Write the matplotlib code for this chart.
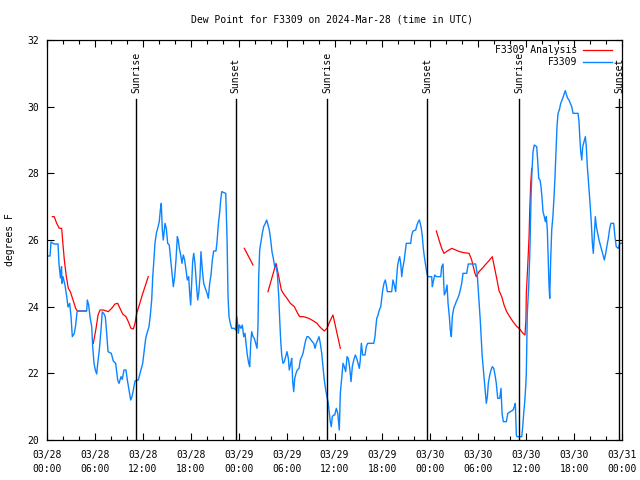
import numpy as np
import matplotlib
matplotlib.use('Agg')
import matplotlib.pyplot as plt
from matplotlib.ticker import MultipleLocator

nan = np.nan

# Hours since 2024-03-28 00:00 UTC
obs_hours = [0.00, 0.38, 0.50, 0.88, 1.38, 1.50, 1.69, 1.82, 1.88, 2.00, 2.25, 2.47, 2.63, 2.84, 3.01,
             3.17, 3.42, 3.59, 3.76, 3.88, 4.97, 5.05, 5.22, 5.38, 5.60, 5.72, 5.89, 6.05, 6.22, 6.35,
             6.55, 6.76, 6.92, 7.10, 7.30, 7.48, 7.64, 8.05, 8.30, 8.60, 8.85, 9.02, 9.27, 9.43, 9.64,
             9.89, 10.06, 10.27, 10.48, 10.64, 10.81, 11.02, 11.43, 11.65, 11.98, 12.18, 12.36, 12.52,
             12.77, 12.94, 13.11, 13.24, 13.36, 13.52, 13.69, 13.86, 14.06, 14.19, 14.31, 14.44, 14.56,
             14.78, 14.94, 15.11, 15.31, 15.49, 15.65, 15.82, 15.99, 16.15, 16.32, 16.44, 16.57, 16.74,
             16.90, 17.07, 17.24, 17.41, 17.57, 17.74, 17.87, 17.99, 18.12, 18.24, 18.37, 18.53, 18.70,
             18.87, 19.00, 19.16, 19.28, 19.45, 19.62, 19.82, 20.04, 20.20, 20.37, 20.54, 20.70, 20.87,
             21.16, 21.29, 21.45, 21.63, 21.75, 21.88, 22.38, 22.54, 22.67, 22.79, 22.95, 23.13, 23.45,
             23.63, 23.76, 23.88, 23.96, 24.08, 24.29, 24.46, 24.63, 24.79, 24.92, 25.08, 25.26, 25.38,
             25.51, 25.63, 25.80, 25.96, 26.13, 26.30, 26.42, 26.51, 26.63, 26.80, 26.96, 27.13, 27.34,
             27.51, 27.67, 27.84, 28.01, 28.17, 28.34, 28.51, 28.68, 28.84, 29.02, 29.14, 29.26, 29.39,
             29.55, 29.72, 29.89, 30.05, 30.22, 30.34, 30.52, 30.64, 30.77, 30.89, 31.02, 31.18, 31.34,
             31.56, 31.72, 31.90, 32.06, 32.22, 32.40, 32.56, 32.72, 32.90, 33.06, 33.22, 33.40, 33.56,
             33.72, 33.90, 34.06, 34.22, 34.40, 34.56, 34.72, 34.90, 35.06, 35.22, 35.35, 35.47, 35.60,
             35.72, 35.90, 36.03, 36.23, 36.41, 36.53, 36.60, 36.73, 36.90, 37.07, 37.23, 37.40, 37.57,
             37.73, 37.91, 38.07, 38.23, 38.41, 38.61, 38.78, 38.94, 39.11, 39.23, 39.36, 39.53, 39.82,
             39.98, 40.16, 40.91, 41.07, 41.16, 41.29, 41.45, 41.61, 41.79, 41.91, 42.04, 42.20, 42.36,
             42.49, 42.61, 43.16, 43.32, 43.49, 43.66, 43.79, 43.91, 44.04, 44.16, 44.29, 44.42, 44.54,
             44.70, 44.83, 44.99, 45.54, 45.67, 45.83, 46.17, 46.33, 46.49, 46.62, 46.74, 46.87, 47.00,
             47.12, 47.25, 47.37, 47.50, 47.67, 48.17, 48.25, 48.37, 48.55, 48.75, 49.30, 49.42, 49.59,
             49.68, 49.75, 49.93, 50.09, 50.22, 50.38, 50.50, 50.63, 50.75, 50.93, 51.09, 51.25, 51.43,
             51.59, 51.75, 51.93, 52.09, 52.55, 52.75, 53.68, 53.88, 54.09, 54.25, 54.38, 54.50, 54.68,
             54.85, 55.01, 55.14, 55.26, 55.44, 55.60, 55.76, 55.94, 56.10, 56.26, 56.44, 56.69, 56.85,
             56.98, 57.14, 57.52, 57.70, 58.02, 58.36, 58.52, 58.64, 58.77, 58.85, 59.44, 59.57, 59.69,
             59.82, 59.94, 60.02, 60.14, 60.32, 60.48, 60.61, 60.73, 60.86, 61.02, 61.32, 61.45, 61.57,
             61.73, 61.86, 61.99, 62.11, 62.27, 62.40, 62.52, 62.65, 62.77, 62.86, 62.95, 63.07, 63.20,
             63.36, 63.49, 63.61, 63.74, 63.86, 63.99, 64.15, 64.33, 64.49, 64.65, 64.78, 64.90, 65.03,
             65.20, 65.36, 65.53, 65.70, 65.87, 66.49, 66.62, 66.71, 66.83, 66.96, 67.08, 67.25, 67.41,
             67.53, 67.66, 67.83, 68.00, 68.16, 68.29, 68.41, 68.54, 68.66, 68.79, 68.96, 69.12, 69.29,
             69.46, 69.62, 69.79, 69.96, 70.13, 70.29, 70.46, 70.62, 70.96, 71.12, 71.28, 71.53, 71.74,
             72.00]
obs_dewpt = [25.52, 25.52, 25.94, 25.88, 25.88, 25.28, 24.86, 25.2, 24.7, 24.9, 24.65, 24.3, 23.99, 24.1, 23.7,
             23.1, 23.2, 23.45, 23.84, 23.87, 23.87, 24.2, 24.05, 23.7, 23.4, 22.8, 22.3, 22.1, 21.98, 22.3,
             22.7, 23.3, 23.84, 23.8, 23.7, 23.18, 22.65, 22.6, 22.37, 22.3, 21.8, 21.7, 21.9, 21.82, 22.1,
             22.1, 21.8, 21.5, 21.2, 21.3, 21.5, 21.77, 21.8, 22.0, 22.3, 22.7, 23.05, 23.2,
             23.4, 23.75, 24.2, 24.9, 25.3, 25.9, 26.2, 26.35, 26.55, 26.9, 27.1, 26.3, 26.0,
             26.5, 26.35, 25.9, 25.85, 25.4, 25.0, 24.6, 24.9, 25.4, 26.1, 26.0, 25.75, 25.55,
             25.3, 25.55, 25.4, 25.1, 24.8, 24.9, 24.4, 24.05, 24.7, 25.35, 25.6, 25.3, 24.7,
             24.2, 24.4, 24.9, 25.65, 25.1, 24.7, 24.55, 24.4, 24.25, 24.7, 24.95, 25.4, 25.67,
             25.67, 25.95, 26.45, 26.85, 27.2, 27.45, 27.4, 26.1, 24.3, 23.7, 23.5, 23.35, 23.35,
             23.3, 23.7, 23.45, 23.2, 23.45, 23.35, 23.45, 23.1, 23.2, 22.9, 22.55, 22.3, 22.2,
             22.9, 23.25, 23.1, 23.05, 22.9, 22.75, 23.45, 24.9, 25.7, 25.95, 26.2, 26.4, 26.5,
             26.6, 26.45, 26.3, 26.0, 25.65, 25.45, 25.2, 25.2, 25.0, 24.3, 23.6, 23.0, 22.55,
             22.3, 22.35, 22.5, 22.65, 22.45, 22.1, 22.3, 22.45, 21.75, 21.45, 21.85, 22.0, 22.1,
             22.15, 22.4, 22.5, 22.6, 22.8, 23.0, 23.1, 23.1, 23.05, 23.0, 22.95, 22.9, 22.75,
             22.9, 23.0, 23.1, 22.9, 22.6, 22.2, 21.8, 21.5, 21.3, 21.1, 20.8, 20.55, 20.4,
             20.7, 20.75, 20.75, 20.95, 20.8, 20.5, 20.3, 21.4, 21.85, 22.3, 22.2, 22.05, 22.5,
             22.45, 22.15, 21.75, 22.2, 22.4, 22.55, 22.45, 22.3, 22.15, 22.4, 22.9, 22.55, 22.55,
             22.8, 22.9, 22.9, 23.1, 23.35, 23.65, 23.75, 23.9, 24.0, 24.25, 24.5, 24.7, 24.8,
             24.65, 24.45, 24.45, 24.8, 24.65, 24.45, 24.9, 25.25, 25.4, 25.5, 25.3, 24.9, 25.15,
             25.35, 25.6, 25.9, 25.9, 26.15, 26.27, 26.3, 26.45, 26.55, 26.6, 26.5, 26.35, 26.1,
             25.75, 25.5, 25.3, 25.1, 24.9, 24.9, 24.6, 24.75, 24.95, 24.9, 24.9, 25.2, 25.28,
             24.7, 24.35, 24.45, 24.65, 24.1, 23.7, 23.3, 23.1, 23.7, 23.95, 24.05, 24.15, 24.25,
             24.35, 24.5, 24.7, 25.0, 25.0, 25.28, 25.28, 24.95, 24.2, 23.6, 23.0, 22.5, 22.0,
             21.55, 21.1, 21.3, 21.7, 21.95, 22.1, 22.2, 22.15, 21.95, 21.7, 21.25, 21.25, 21.55,
             20.8, 20.55, 20.55, 20.8, 20.85, 20.9, 21.0, 21.1, 20.15, 20.1, 20.1, 20.4, 20.8,
             21.15, 21.6, 22.0, 23.8, 24.6, 25.8, 27.3, 28.1, 28.65, 28.85, 28.8, 28.35, 27.85,
             27.8, 27.6, 27.25, 26.85, 26.7, 26.55, 26.7, 26.3, 25.4, 24.65, 24.25, 25.4, 26.3,
             26.75, 27.3, 27.9, 28.65, 29.4, 29.8, 29.9, 30.1, 30.2, 30.3, 30.4, 30.48, 30.37,
             30.25, 30.2, 30.1, 30.0, 29.8, 29.8, 29.55, 29.1, 28.65, 28.4, 28.8, 28.95, 29.1,
             28.8, 28.2, 27.65, 27.1, 26.5, 25.9, 25.6, 26.2, 26.7, 26.4, 26.2, 26.0, 25.85,
             25.7, 25.55, 25.4, 25.6, 25.85, 26.05, 26.35, 26.5, 26.5, 26.1, 25.8, 25.75, 25.9,
             25.9]

ana_hours = [0.66, 0.91, 1.21, 1.54, 1.84, 1.97, 2.17, 2.42, 2.67, 2.92, 3.26, 3.59, 3.79, 4.90, nan,
             5.80, 6.14, 6.39, 6.64, 7.05, 7.68, 8.10, 8.51, 8.85, 9.14, 9.48, 9.89, 10.18, 10.52,
             10.81, 11.02, 11.23, 11.56, 11.93, 12.68, nan,
             24.71, 25.80, nan,
             27.67, 28.68, 29.02, 29.34, 29.64, 30.05, 30.47, 30.97, 31.39, 31.64, 32.14, 32.77, 33.31,
             33.81, 34.22, 34.72, 35.06, 35.40, 35.81, 36.73, nan,
             48.75, 49.09, 49.42, 49.71, 50.13, 50.68, 51.18, 51.68, 52.22, 52.85, 53.18, 53.38, 53.59,
             53.75, 54.09, 54.50, 54.93, 55.35, 55.76, 56.01, 56.31, 56.60, 56.94, 57.23, 57.56, 57.94,
             58.35, 58.77, 59.19, 59.60, 59.85, 59.97, 60.02, 60.19, 60.36, 60.45, 60.57, 60.70]
ana_dewpt = [26.7, 26.7, 26.5, 26.35, 26.35, 25.95, 25.4, 24.9, 24.55, 24.45, 24.2, 23.95, 23.87, 23.87, nan,
             22.9, 23.35, 23.75, 23.9, 23.9, 23.85, 23.95, 24.08, 24.1, 23.95, 23.78, 23.7, 23.55, 23.35,
             23.33, 23.5, 23.8, 24.05, 24.35, 24.9, nan,
             25.75, 25.25, nan,
             24.45, 25.3, 24.9, 24.5, 24.38, 24.25, 24.1, 24.0, 23.8, 23.7, 23.7, 23.65, 23.58,
             23.5, 23.38, 23.27, 23.35, 23.55, 23.75, 22.75, nan,
             26.27, 26.0, 25.75, 25.6, 25.67, 25.75, 25.7, 25.65, 25.62, 25.6, 25.4, 25.2, 25.0,
             24.9, 25.05, 25.15, 25.27, 25.38, 25.5, 25.2, 24.85, 24.48, 24.3, 24.05, 23.85, 23.7,
             23.55, 23.42, 23.33, 23.2, 23.15, 23.6, 24.4, 25.2, 26.1, 26.9, 27.7, 28.15]

sun_hours = [11.18, 23.63, 35.10, 47.62, 59.14, 71.66]
sun_labels = ['Sunrise', 'Sunset', 'Sunrise', 'Sunset', 'Sunrise', 'Sunset']

xtick_hours = [0, 6, 12, 18, 24, 30, 36, 42, 48, 54, 60, 66, 72]
xtick_labels = ['03/28\n00:00', '03/28\n06:00', '03/28\n12:00', '03/28\n18:00',
                '03/29\n00:00', '03/29\n06:00', '03/29\n12:00', '03/29\n18:00',
                '03/30\n00:00', '03/30\n06:00', '03/30\n12:00', '03/30\n18:00',
                '03/31\n00:00']
ytick_values = [20, 22, 24, 26, 28, 30, 32]

title = 'Dew Point for F3309 on 2024-Mar-28 (time in UTC)'
series_names = ['F3309 Analysis', 'F3309']

plt.rcParams['font.family'] = ['DejaVu Sans Mono']
FS = 7

fig = plt.figure(figsize=(6.4, 4.8), dpi=100)
ax = fig.add_axes([47 / 640, 40 / 480, 575 / 640, 400 / 480])

ax.plot(ana_hours, ana_dewpt, color='#ff0000', lw=0.9)
ax.plot(obs_hours, obs_dewpt, color='#0a84ff', lw=1.0)

for h, lab in zip(sun_hours, sun_labels):
    ax.plot([h, h], [20, 30.23], color='black', lw=1.0)
    ax.text(h, 30.42, lab, rotation=90, ha='center', va='bottom', fontsize=FS)

ax.set_xlim(0, 72)
ax.set_ylim(20, 32)
ax.set_xticks(xtick_hours)
ax.set_xticklabels(xtick_labels, linespacing=1.5)
ax.xaxis.set_minor_locator(MultipleLocator(2))
ax.set_yticks(ytick_values)
ax.set_yticklabels([str(v) for v in ytick_values])
ax.tick_params(which='both', direction='in', top=True, right=True, labelsize=FS, width=0.8)
ax.tick_params(which='major', length=5)
ax.tick_params(which='minor', length=3)
ax.tick_params(axis='x', pad=7)
ax.tick_params(axis='y', pad=6)
for s in ax.spines.values():
    s.set_linewidth(0.9)

fig.text(332 / 640, 1 - 20 / 480, title, ha='center', va='center', fontsize=FS)
fig.text(10 / 640, 0.5, 'degrees F', rotation=90, ha='center', va='center', fontsize=FS)

# legend (gnuplot style: text then sample line)
ax.text(0.9217, 0.975, series_names[0], transform=ax.transAxes, ha='right', va='center', fontsize=FS)
ax.plot([0.932, 0.983], [0.975, 0.975], transform=ax.transAxes, color='#ff0000', lw=0.9, clip_on=False)
ax.text(0.9217, 0.945, series_names[1], transform=ax.transAxes, ha='right', va='center', fontsize=FS)
ax.plot([0.932, 0.983], [0.945, 0.945], transform=ax.transAxes, color='#0a84ff', lw=1.0, clip_on=False)

fig.savefig('out.png', dpi=100)
